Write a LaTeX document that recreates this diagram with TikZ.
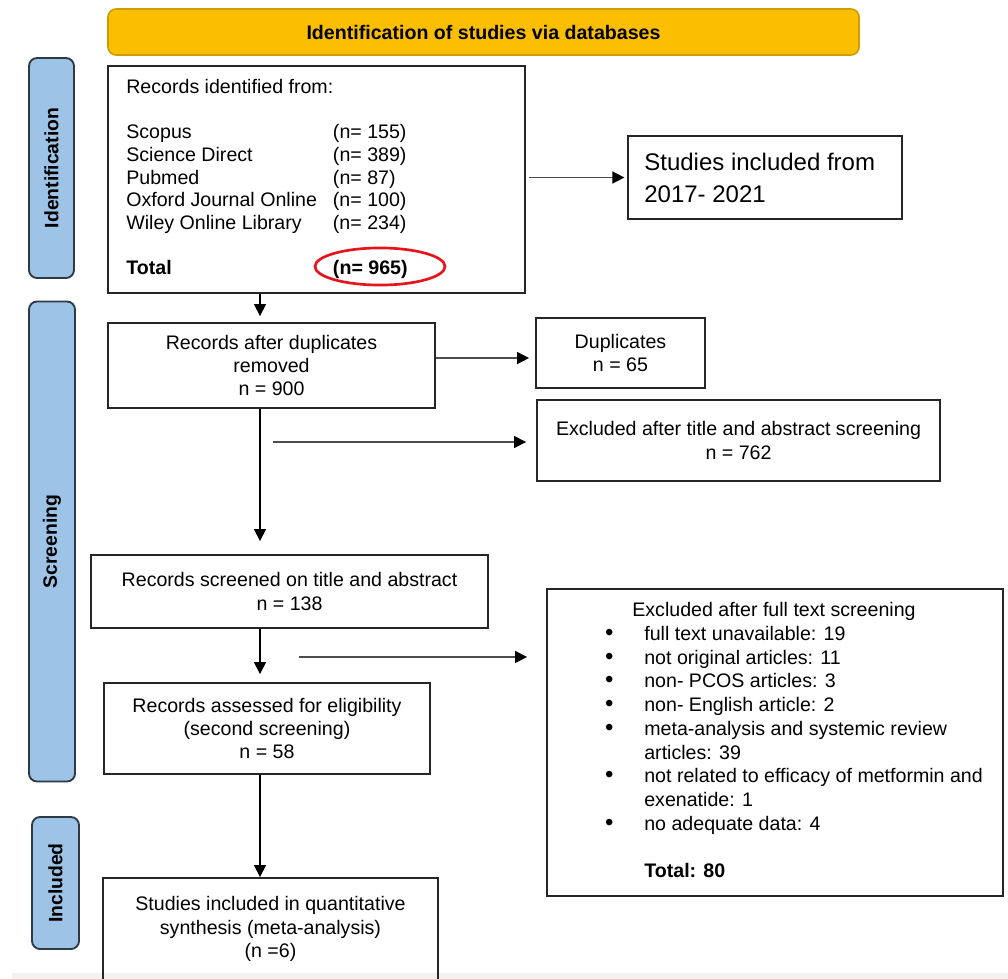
\documentclass[tikz,border=0pt]{standalone}
\usepackage{fontspec}
\setmainfont{Liberation Sans}
\usetikzlibrary{arrows.meta}

\definecolor{bannerfill}{HTML}{FBBE00}
\definecolor{bannerline}{HTML}{CF9C00}
\definecolor{barfill}{HTML}{9DC3E6}
\definecolor{barline}{HTML}{2E3A46}
\definecolor{totalred}{HTML}{E8141B}

\newcommand{\dotitem}{{\fontsize{18}{17.8}\selectfont\textbullet}}

\begin{document}
\begin{tikzpicture}[x=0.75pt,y=-0.75pt,
    box/.style={draw=black!85, line width=1.4pt, inner sep=0pt, align=center,
        font=\fontsize{14.7}{17.4}\selectfont},
    bar/.style={draw=barline, fill=barfill, line width=1.4pt, rounded corners=6pt,
        inner sep=0pt, rotate=90, font=\fontsize{14.5}{17}\selectfont\bfseries},
    arr/.style={line width=1.1pt, -{Triangle[length=9pt,width=9pt]}},
    harr/.style={draw=black!70, line width=1.1pt, -{Triangle[length=9pt,width=9pt,color=black]}}]
    \useasboundingbox (0,0) rectangle (1008,979);
    \fill[black!5] (12,973) rectangle (1008,979);

    % heading and phases
    \node[draw=bannerline, fill=bannerfill, line width=1.2pt, rounded corners=6pt,
        minimum width=563.25pt, minimum height=34.5pt,
        font=\fontsize{14.7}{17}\selectfont\bfseries] (banner) at (483.5,32) {Identification of studies via databases};
    \node[bar, minimum width=165pt, minimum height=33.75pt] (identbar) at (51.5,168) {Identification};
    \node[bar, minimum width=360pt, minimum height=34.5pt] (screenbar) at (52,541.5) {Screening};
    \node[bar, minimum width=99pt, minimum height=35.25pt] (inclbar) at (55.5,883) {Included};

    % identification
    \node[box, minimum width=312.75pt, minimum height=170.25pt] (records) at (316.5,179.5) {};
    \node[anchor=west, inner sep=0pt, font=\fontsize{14.7}{17}\selectfont] (recordslist) at ([xshift=14.25pt]records.west) {%
        \begin{tabular}{@{}p{155pt}@{}l@{}}
            \multicolumn{2}{@{}l@{}}{Records identified from:}\\
            & \\
            Scopus & (n= 155)\\
            Science Direct & (n= 389)\\
            Pubmed & (n= 87)\\
            Oxford Journal Online & (n= 100)\\
            Wiley Online Library & (n= 234)\\
            & \\
            \textbf{Total} & \textbf{(n= 965)}
        \end{tabular}};
    \draw[totalred, line width=2pt] (380,266.5) ellipse [x radius=48.75pt, y radius=13.9pt];

    \node[box, minimum width=205.5pt, minimum height=62.25pt] (range) at (765,177.5) {};
    \node[anchor=west, inner sep=0pt, align=left, font=\fontsize{18}{24}\selectfont] (rangetext) at ([xshift=12.75pt]range.west) {Studies included from\\2017- 2021};

    % screening
    \node[box, minimum width=245.25pt, minimum height=63.75pt] (dedup) at (271.5,365.5) {Records after duplicates\\removed\\n = 900};
    \node[box, minimum width=126.75pt, minimum height=52.5pt] (dup) at (620.5,353) {Duplicates\\n = 65};
    \node[box, minimum width=302.25pt, minimum height=60.75pt] (titleabs) at (738.5,440.5) {Excluded after title and abstract screening\\n = 762};
    \node[box, minimum width=297.75pt, minimum height=54.75pt] (screened) at (289.5,591.5) {Records screened on title and abstract\\n = 138};
    \node[box, minimum width=244.5pt, minimum height=68.25pt] (assessed) at (267,728.5) {Records assessed for eligibility\\(second screening)\\n = 58};

    \node[box, minimum width=342pt, minimum height=230.25pt] (fulltext) at (775,742.5) {};
    \node[anchor=west, inner sep=0pt, font=\fontsize{14.7}{17.8}\selectfont] (fulltextlist) at ([xshift=44pt]fulltext.west) {%
        \begin{tabular}{@{}p{29.5pt}@{}l@{}}
            \multicolumn{2}{@{}l@{}}{\hspace{20.5pt}Excluded after full text screening}\\
            \dotitem & full text unavailable: 19\\
            \dotitem & not original articles: 11\\
            \dotitem & non- PCOS articles: 3\\
            \dotitem & non- English article: 2\\
            \dotitem & meta-analysis and systemic review\\
            & articles: 39\\
            \dotitem & not related to efficacy of metformin and\\
            & exenatide: 1\\
            \dotitem & no adequate data: 4\\
            & \\
            & \textbf{Total: 80}
        \end{tabular}};

    % included
    \node[box, minimum width=251.25pt, minimum height=76.5pt] (quant) at (270.5,929) {Studies included in quantitative\\synthesis (meta-analysis)\\(n =6)};

    % connectors
    \coordinate (flow) at (260,0);
    \coordinate (tastart) at (273,442);
    \coordinate (ftstart) at (299,657);

    \draw[arr, shorten >=4.5pt] (flow |- records.south) -- (flow |- dedup.north);
    \draw[arr, shorten >=9.75pt] (flow |- dedup.south) -- (flow |- screened.north);
    \draw[arr, shorten >=6pt] (flow |- screened.south) -- (flow |- assessed.north);
    \draw[arr] (flow |- assessed.south) -- (flow |- quant.north);

    \draw[harr, shorten <=2pt, shorten >=2pt] (records.east |- range.west) -- (range.west);
    \draw[harr, shorten >=4.5pt] ([yshift=5.6pt]dedup.east) -- ([yshift=5.6pt]dedup.east -| dup.west);
    \draw[harr, shorten >=7.5pt] (tastart) -- (tastart -| titleabs.west);
    \draw[harr, shorten >=14.25pt] (ftstart) -- (ftstart -| fulltext.west);

\end{tikzpicture}
\end{document}
